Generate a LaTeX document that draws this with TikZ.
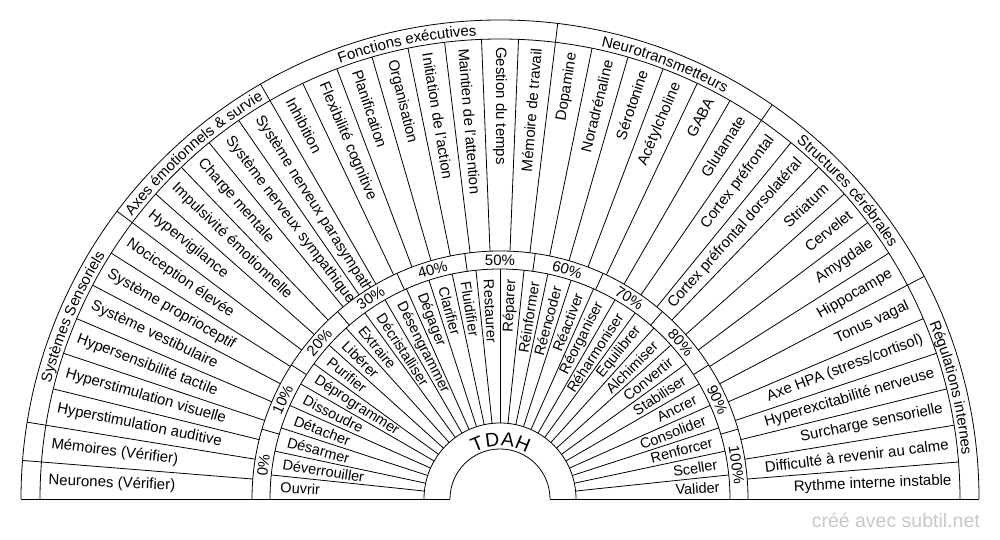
\documentclass[tikz,border=0pt]{standalone}
\usepackage{fontspec}
\setmainfont{Liberation Sans}
\usetikzlibrary{decorations.text}
\definecolor{wmgray}{RGB}{200,200,200}
\newcommand{\catf}{\fontsize{15}{15}\selectfont}
\begin{document}
\begin{tikzpicture}[x=1pt,y=1pt,
  ln/.style={draw=black, line width=0.8pt},
  mainlbl/.style={font=\fontsize{15}{15}\selectfont, inner sep=0pt},
  actlbl/.style={font=\fontsize{14.5}{14.5}\selectfont, inner sep=0pt},
  pctlbl/.style={font=\fontsize{15}{15}\selectfont, inner sep=0pt},
  hublbl/.style={font=\fontsize{19.5}{19.5}\selectfont, inner sep=0pt},
  cattext/.style={decorate, decoration={text along path, text align=center, text={|\catf|#1}}},
]
\useasboundingbox (0,0) rectangle (1000,540);
\begin{scope}[shift={(500,41)}]
\coordinate (C) at (0,0);
% main labels
\foreach \t [count=\k] in {{Neurones (Vérifier)},{Mémoires (Vérifier)},{Hyperstimulation auditive},{Hyperstimulation visuelle},{Hypersensibilité tactile},{Système vestibulaire},{Système proprioceptif},{Nociception élevée},{Hypervigilance},{Impulsivité émotionnelle},{Charge mentale},{Système nerveux sympathique},{Système nerveux parasympathique},{Inhibition},{Flexibilité cognitive},{Planification},{Organisation},{Initiation de l'action},{Maintien de l'attention},{Gestion du temps},{Mémoire de travail},{Dopamine},{Noradrénaline},{Sérotonine},{Acétylcholine},{GABA},{Glutamate},{Cortex préfrontal},{Cortex préfrontal dorsolatéral},{Striatum},{Cervelet},{Amygdale},{Hippocampe},{Tonus vagal},{Axe HPA (stress/cortisol)},{Hyperexcitabilité nerveuse},{Surcharge sensorielle},{Difficulté à revenir au calme},{Rythme interne instable}} {
  \pgfmathsetmacro{\a}{180-(\k-0.5)*180/39}
  \pgfmathsetmacro{\ra}{\a-180}
  \ifnum\k<21
    \node[mainlbl, anchor=west, rotate=\ra] (m\k) at (\a:452) {\t};
  \else
    \node[mainlbl, anchor=east, rotate=\a] (m\k) at (\a:452) {\t};
  \fi
}
% white cover for inner rings
\fill[white] (-248,0) arc[start angle=180, end angle=0, radius=248] -- cycle;
% arcs
\foreach \r in {479,460,248,230,76,50}
  \draw[ln] (-\r,0) arc[start angle=180, end angle=0, radius=\r];
\draw[ln] (-479,0) -- (-50,0);
\draw[ln] (50,0) -- (479,0);
% main separators
\foreach \k in {1,...,38} {
  \pgfmathsetmacro{\a}{180-\k*180/39}
  \draw[ln] (\a:248) -- (\a:460);
}
% category separators
\foreach \k in {1,2,8,13,21,27,33} {
  \pgfmathsetmacro{\a}{180-\k*180/39}
  \draw[ln] (\a:460) -- (\a:479);
}
% percent separators
\foreach \k in {1,...,10} {
  \pgfmathsetmacro{\a}{180-\k*180/11}
  \draw[ln] (\a:230) -- (\a:248);
}
% action separators
\foreach \k in {1,...,29} {
  \pgfmathsetmacro{\a}{180-\k*6}
  \draw[ln] (\a:76) -- (\a:230);
}
% percent labels
\foreach \k in {0,...,10} {
  \pgfmathsetmacro{\a}{180-(\k+0.5)*180/11}
  \pgfmathsetmacro{\ra}{\a-90}
  \pgfmathtruncatemacro{\pv}{\k*10}
  \node[pctlbl, rotate=\ra] (p\k) at (\a:239) {\pv\%};
}
% action labels
\foreach \t [count=\k] in {Ouvrir,Déverrouiller,Désarmer,Détacher,Dissoudre,Déprogrammer,Purifier,Libérer,Extraire,Décristalliser,Désengrammer,Dégager,Clarifier,Fluidifier,Restaurer,Réparer,Réinformer,Réencoder,Réactiver,Réorganiser,Réharmoniser,Equilibrer,Alchimiser,Convertir,Stabiliser,Ancrer,Consolider,Renforcer,Sceller,Valider} {
  \pgfmathsetmacro{\a}{180-(\k-0.5)*6}
  \pgfmathsetmacro{\ra}{\a-180}
  \ifnum\k<16
    \node[actlbl, anchor=west, rotate=\ra] (act\k) at (\a:220) {\t};
  \else
    \node[actlbl, anchor=east, rotate=\a] (act\k) at (\a:220) {\t};
  \fi
}
% hub
\node[hublbl, rotate=22.5] (hT) at (112.5:60) {T};
\node[hublbl, rotate=7.5] (hD) at (97.5:60) {D};
\node[hublbl, rotate=-7.5] (hA) at (82.5:60) {A};
\node[hublbl, rotate=-22.5] (hH) at (67.5:60) {H};
% category labels
\path[cattext={Systèmes Sensoriels}] (170.769:464) arc[start angle=170.769, end angle=143.077, radius=464];
\path[cattext={Axes émotionnels {\&} survie}] (143.077:464) arc[start angle=143.077, end angle=120, radius=464];
\path[cattext={Fonctions exécutives}] (120:464) arc[start angle=120, end angle=83.077, radius=464];
\path[cattext={Neurotransmetteurs}] (83.077:464) arc[start angle=83.077, end angle=55.385, radius=464];
\path[cattext={Structures cérébrales}] (55.385:464) arc[start angle=55.385, end angle=27.692, radius=464];
\path[cattext={Régulations internes}] (27.692:464) arc[start angle=27.692, end angle=0, radius=464];
\end{scope}
\node[font=\fontsize{19.5}{19.5}\selectfont, text=wmgray, anchor=east, inner sep=0pt] (wm) at (980,20) {créé avec subtil.net};
\end{tikzpicture}
\end{document}
